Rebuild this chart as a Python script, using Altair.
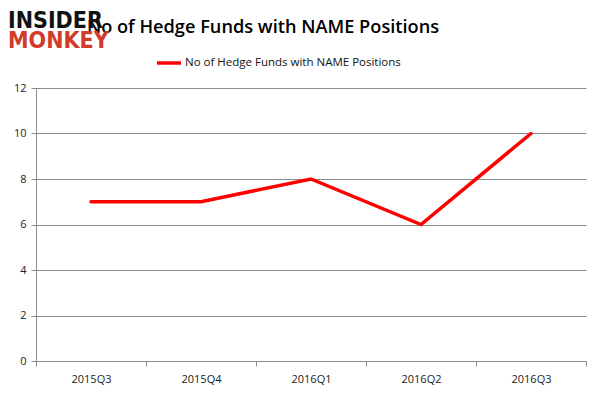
import altair as alt
import pandas as pd

quarters = ["2015Q3", "2015Q4", "2016Q1", "2016Q2", "2016Q3"]
funds = [7, 7, 8, 6, 10]
series_name = "No of Hedge Funds with NAME Positions"
title_text = "No of Hedge Funds with NAME Positions"

df = pd.DataFrame({"quarter": quarters, "funds": funds, "series": [series_name] * len(quarters)})

font = "Open Sans"
grid_col = "#8c8c8c"

line = alt.Chart(df).mark_line(strokeWidth=3.5, strokeCap="round").encode(
    x=alt.X("quarter:N", sort=quarters, title=None,
            scale=alt.Scale(paddingInner=0, paddingOuter=0),
            axis=alt.Axis(labelAngle=0, tickBand="extent", grid=False, domainColor=grid_col,
                          tickColor=grid_col, tickSize=5, labelPadding=7, labelFontSize=11,
                          labelColor="#222222", labelFont=font)),
    y=alt.Y("funds:Q", title=None,
            scale=alt.Scale(domain=[0, 12], nice=False),
            axis=alt.Axis(values=[0, 2, 4, 6, 8, 10, 12], grid=True, gridColor=grid_col,
                          domainColor=grid_col, tickColor=grid_col, tickSize=5, labelPadding=5,
                          labelFontSize=11, labelColor="#222222", labelFont=font)),
    color=alt.Color("series:N", scale=alt.Scale(range=["#ff0000"]),
                    legend=alt.Legend(title=None, orient="none", legendX=119, legendY=-39,
                                      symbolType="stroke", symbolSize=576, symbolStrokeWidth=3.5,
                                      labelFontSize=11.5, labelFont=font, labelColor="#111111",
                                      labelOffset=2, labelLimit=0)),
)

title = alt.Chart(pd.DataFrame({"t": [title_text]})).mark_text(
    align="center", baseline="alphabetic", font=font, fontWeight=600, fontSize=18.2,
    color="#000000").encode(text="t:N", x=alt.value(227), y=alt.value(-55))

logo1 = alt.Chart(pd.DataFrame({"word": ["INSIDER"]})).mark_text(
    align="left", baseline="alphabetic", font="DejaVu Sans Condensed", fontWeight="bold", fontSize=23,
    color="#111111").encode(text="word:N", x=alt.value(-28), y=alt.value(-60))
logo2 = alt.Chart(pd.DataFrame({"word": ["MONKEY"]})).mark_text(
    align="left", baseline="alphabetic", font="DejaVu Sans Condensed", fontWeight="bold", fontSize=23,
    color="#d13b2a").encode(text="word:N", x=alt.value(-28), y=alt.value(-40))

chart = alt.layer(line, title, logo1, logo2).properties(
    width=550, height=273,
    autosize=alt.AutoSizeParams(type="none"),
    padding={"left": 28, "top": 80, "right": 7, "bottom": 26},
).configure_view(stroke=None)

chart.save("out.html", embed_options={"renderer": "svg", "actions": False})
